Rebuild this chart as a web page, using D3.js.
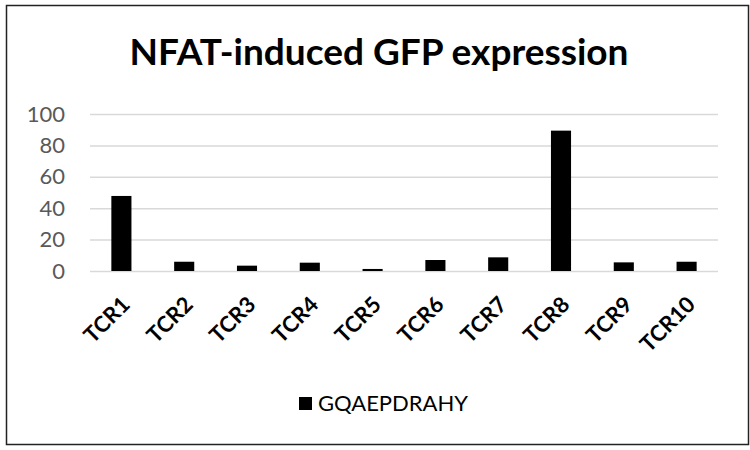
<!DOCTYPE html>
<html>
<head>
<meta charset="utf-8">
<script src="https://cdn.jsdelivr.net/npm/d3@7"></script>
<style>
  body { margin: 0; background: #fff; }
  text { font-family: Lato, "Open Sans", sans-serif; }
</style>
</head>
<body>
<div id="chart"></div>
<script>
const categories = ["TCR1", "TCR2", "TCR3", "TCR4", "TCR5", "TCR6", "TCR7", "TCR8", "TCR9", "TCR10"];
const values = [47.8, 5.9, 3.4, 5.3, 1.3, 7.0, 8.7, 89.4, 5.5, 5.9];
const yTicks = [0, 20, 40, 60, 80, 100];
const seriesName = "GQAEPDRAHY";
const chartTitle = "NFAT-induced GFP expression";

const width = 750;
const height = 450;
const margin = { top: 114, right: 32, bottom: 179, left: 90 };

const svg = d3.select("#chart").append("svg")
    .attr("width", width)
    .attr("height", height);

// outer frame
svg.append("rect")
    .attr("x", 6.5).attr("y", 5.5)
    .attr("width", 742).attr("height", 439)
    .attr("fill", "white")
    .attr("stroke", "#222")
    .attr("stroke-width", 1.5);

const x = d3.scaleBand()
    .domain(categories)
    .range([margin.left, width - margin.right])
    .paddingInner(0.68)
    .paddingOuter(0.34);

const y = d3.scaleLinear()
    .domain([0, 100])
    .range([height - margin.bottom, margin.top]);

// title
svg.append("text")
    .attr("x", 379).attr("y", 65)
    .attr("text-anchor", "middle")
    .attr("font-size", 37)
    .attr("font-weight", "bold")
    .attr("fill", "#000")
    .text(chartTitle);

// gridlines + y labels
const yAxis = svg.append("g")
    .attr("transform", `translate(${margin.left},0)`)
    .call(d3.axisLeft(y).tickValues(yTicks).tickSize(-(width - margin.left - margin.right)).tickPadding(25));
yAxis.select(".domain").remove();
yAxis.selectAll(".tick line").attr("stroke", "#d9d9d9").attr("stroke-width", 1.5);
yAxis.selectAll(".tick text")
    .attr("fill", "#595959")
    .attr("font-size", 22)
    .style("font-family", "Lato, 'Open Sans', sans-serif");

// bars
svg.append("g")
    .selectAll("rect")
    .data(values)
    .join("rect")
    .attr("x", (d, i) => x(categories[i]))
    .attr("y", d => y(d))
    .attr("width", x.bandwidth())
    .attr("height", d => y(0) - y(d))
    .attr("fill", "#000");

// x labels, rotated 45 degrees
svg.append("g")
    .selectAll("text")
    .data(categories)
    .join("text")
    .attr("transform", d => `translate(${x(d) + x.bandwidth() / 2 + 10},${y(0) + 35}) rotate(-45)`)
    .attr("text-anchor", "end")
    .attr("font-size", 22)
    .attr("font-weight", "bold")
    .attr("fill", "#000")
    .text(d => d);

// legend
const legend = svg.append("g").attr("transform", "translate(299,397)");
legend.append("rect")
    .attr("width", 13).attr("height", 13)
    .attr("fill", "#000");
legend.append("text")
    .attr("x", 19).attr("y", 14)
    .attr("font-size", 22)
    .attr("fill", "#000")
    .text(seriesName);
</script>
</body>
</html>
